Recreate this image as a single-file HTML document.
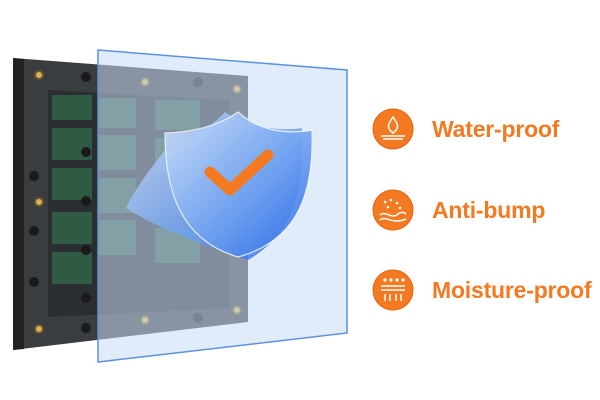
<!DOCTYPE html>
<html><head><meta charset="utf-8"><style>
html,body{margin:0;padding:0;background:#fff;width:600px;height:400px;overflow:hidden}
.t{position:absolute;left:432px;font-family:"Liberation Sans",sans-serif;font-weight:bold;font-size:23px;color:#f47a22;letter-spacing:-0.2px}
</style></head><body>
<svg width="600" height="400" style="position:absolute;left:0;top:0">
<defs>
<linearGradient id="sh" x1="0" y1="0" x2="1" y2="1"><stop offset="0" stop-color="#cfe0fa"/><stop offset="0.6" stop-color="#6a9ef0"/><stop offset="1" stop-color="#2a68e6"/></linearGradient>
</defs>
<!-- panel -->
<polygon points="13,58 248,76 248,322 13,350" fill="#3a3d3f"/>
<polygon points="13,58 24,59 24,349 13,350" fill="#222"/>
<polygon points="48,90 230,100 230,308 48,317" fill="#2b2e30"/>
<g fill="#2f5a44">
<rect x="52" y="95" width="40" height="25"/><rect x="52" y="128" width="40" height="32"/><rect x="52" y="168" width="40" height="32"/><rect x="52" y="212" width="40" height="32"/><rect x="52" y="252" width="40" height="32"/>
<rect x="98" y="98" width="38" height="30"/><rect x="98" y="135" width="38" height="35"/><rect x="98" y="178" width="38" height="35"/><rect x="98" y="220" width="38" height="35"/>
<rect x="155" y="100" width="45" height="30"/><rect x="155" y="138" width="45" height="35"/><rect x="155" y="228" width="45" height="35"/>
</g>
<g fill="#1a1a1a">
<circle cx="86" cy="77" r="5"/><circle cx="198" cy="82" r="5"/><circle cx="86" cy="152" r="5"/><circle cx="86" cy="201" r="5"/><circle cx="86" cy="250" r="5"/><circle cx="86" cy="298" r="5"/><circle cx="34" cy="282" r="5"/><circle cx="86" cy="328" r="5"/><circle cx="34" cy="176" r="5"/><circle cx="34" cy="231" r="5"/><circle cx="198" cy="318" r="5"/>
</g>
<g fill="#d6b25a" stroke="#6b5426" stroke-width="2">
<circle cx="39" cy="75" r="4"/><circle cx="39" cy="202" r="4"/><circle cx="39" cy="329" r="4"/><circle cx="145" cy="82" r="4"/><circle cx="237" cy="89" r="4"/><circle cx="145" cy="320" r="4"/><circle cx="237" cy="310" r="4"/>
</g>
<!-- glass -->
<polygon points="98,50 347,70 347,333 98,362" fill="#c9dcf6" fill-opacity=".55" stroke="#5a92e0" stroke-width="1.5"/>
<!-- shields -->
<path d="M225,112 C245,125 275,132 302,128 C304,180 300,230 248,260 C205,245 160,230 126,208 C140,180 158,160 165,150 C190,140 210,128 225,112 Z" fill="url(#sh)" opacity=".85"/>
<path d="M238,112 C258,130 285,135 312,130 C314,190 300,240 238,257 C180,240 165,190 165,133 C195,132 220,125 238,112 Z" fill="url(#sh)" stroke="#eef4ff" stroke-width="1.2" opacity=".9"/>
<path d="M210,172 L230,190 L268,155" fill="none" stroke="#f47a22" stroke-width="11" stroke-linecap="round" stroke-linejoin="round"/>
<!-- icons -->
<g fill="#f47a22" stroke="#e86010" stroke-width="1"><circle cx="393" cy="129" r="20"/><circle cx="393" cy="210" r="20"/><circle cx="393" cy="290" r="20"/></g>
<g fill="none" stroke="#fff" stroke-width="1.5">
<path d="M393,117 C398,124 400,128 393,133 C386,128 388,124 393,117 Z"/><path d="M381,136 L405,136 M383,139 L403,139"/>
<path d="M380,215 C386,210 392,220 398,214 C402,211 405,213 406,214"/><path d="M380,220 C386,215 392,225 406,219"/>
<path d="M381,286 L405,286 M381,290 L405,290 M385,294 L385,301 M390,294 L390,301 M396,294 L396,301 M401,294 L401,301"/>
</g>
<g fill="#fff"><circle cx="385" cy="202" r="1.3"/><circle cx="391" cy="200" r="1.3"/><circle cx="397" cy="203" r="1.3"/><circle cx="388" cy="207" r="1.3"/><circle cx="400" cy="208" r="1.3"/>
<circle cx="385" cy="280" r="1.6"/><circle cx="391" cy="280" r="1.6"/><circle cx="397" cy="280" r="1.6"/><circle cx="403" cy="280" r="1.6"/></g>
</svg>
<div class="t" style="top:116px">Water-proof</div>
<div class="t" style="top:197px">Anti-bump</div>
<div class="t" style="top:277px">Moisture-proof</div>
</body></html>
